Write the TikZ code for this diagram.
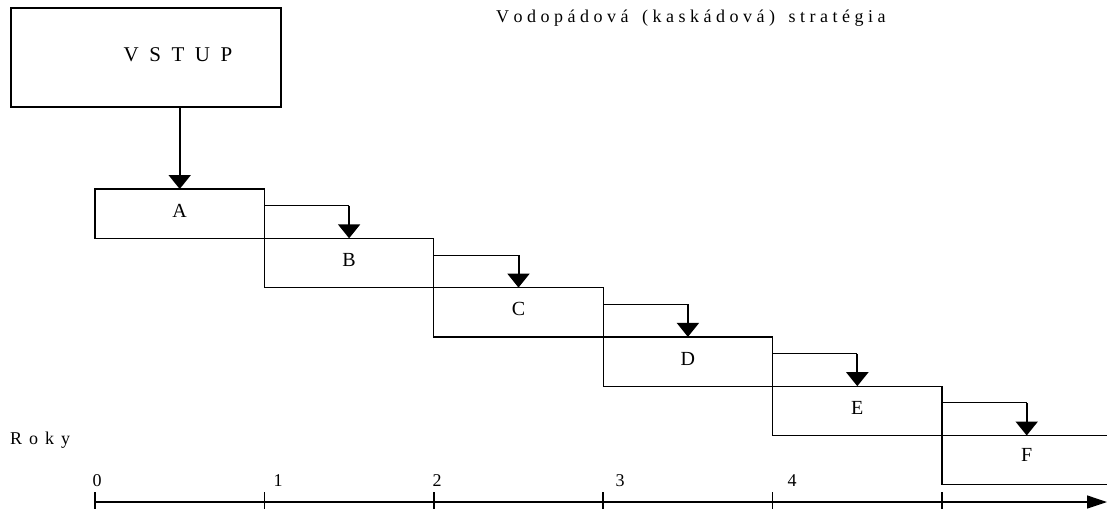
\documentclass[tikz,border=0pt]{standalone}
\usepackage{fontspec}
\setmainfont{Liberation Serif}
\usetikzlibrary{arrows.meta,calc}
\tikzset{
  box/.style={draw, line width=1.3pt, rectangle, inner sep=0pt, outer sep=0pt, minimum width=169.4pt, minimum height=49.3pt, text depth=6pt, font=\fontsize{20}{20}\selectfont},
  lbl/.style={inner sep=0pt, font=\fontsize{20}{20}\selectfont},
  small/.style={inner sep=0pt, font=\fontsize{18}{18}\selectfont},
  tip/.style={-{Triangle[width=22pt,length=14pt]}, line width=2pt},
  thinline/.style={line width=1pt},
}
\newcommand{\gp}{\hspace{10.5pt}}
\begin{document}
\begin{tikzpicture}[x=1pt,y=-1pt]
\useasboundingbox (0,0) rectangle (1107,509);
% title
\node[small, anchor=west] (title) at (496,18) {V o d o p á d o v á \ \ ( k a s k á d o v á ) \ \ s t r a t é g i a};
% input box
\node[draw, line width=1.3pt, rectangle, inner sep=0pt, minimum width=270pt, minimum height=99pt] (VSTUP) at (146,57.5) {};
\node[inner sep=0pt, font=\fontsize{21}{21}\selectfont] (vstuptext) at (178,55) {V\gp S\gp T\gp U\gp P};
% phase boxes
\node[box] (A) at (179.7,213.65) {A};
\node[box] (B) at (349.1,262.95) {B};
\node[box] (C) at (518.5,312.25) {C};
\node[box] (D) at (687.9,361.55) {D};
\node[box] (E) at (857.3,410.85) {E};
% open box F
\coordinate (Ftl) at (942,435.5);
\coordinate (Fbl) at (942,484.8);
\coordinate (Ftr) at (1107,435.5);
\coordinate (Fbr) at (1107,484.8);
\draw[line width=1.3pt] (Ftr) -- (Ftl) -- (Fbl) -- (Fbr);
\node[lbl] (F) at (1026.7,455) {F};
\coordinate (Fn) at (1026.7,435.5);
% main arrow
\draw[tip] (A.north |- VSTUP.south) -- (A.north);
% step connectors
\foreach \a/\b in {A/B,B/C,C/D,D/E}{
  \coordinate (\a s) at ($(\a.north east)+(0,16.7)$);
  \draw[thinline] (\a s) -- (\a s -| \b.north);
  \draw[tip] (\a s -| \b.north) -- (\b.north);
}
\coordinate (Es) at ($(E.north east)+(0,16.7)$);
\draw[thinline] (Es) -- (Es -| Fn);
\draw[tip] (Es -| Fn) -- (Fn);
% axis
\coordinate (ax0) at (95,502);
\coordinate (axend) at (1107,502);
\draw[line width=1.3pt, -{Triangle[width=13pt,length=20pt]}] (ax0) -- (axend);
\foreach \i/\x/\lx in {0/95/97,1/264.4/278,2/433.8/437,3/603.2/620,4/772.6/792}{
  \draw[line width=1.6pt] (\x,492) -- (\x,509);
  \node[inner sep=0pt, font=\fontsize{18}{18}\selectfont] (t\i) at (\lx,481) {\i};
}
\draw[line width=1.6pt] (942,492) -- (942,509);
\node[small, anchor=west] (roky) at (10,440) {R\hspace{7pt}o\hspace{7pt}k\hspace{7pt}y};
\end{tikzpicture}
\end{document}
